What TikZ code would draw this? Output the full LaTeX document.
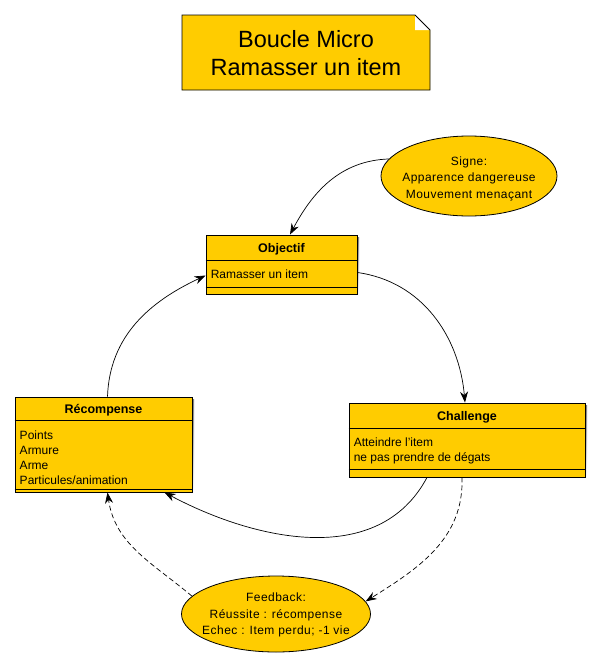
\documentclass[tikz,border=0pt]{standalone}
\usepackage{fontspec}
\setmainfont{Liberation Sans}
\usetikzlibrary{arrows.meta,shapes.geometric}
\definecolor{gold}{HTML}{FFCC00}
\definecolor{shade}{HTML}{C9A200}
\begin{document}
\begin{tikzpicture}[x=1pt,y=-1pt,
  cls/.style={draw=black,fill=gold,line width=0.9pt,inner sep=0pt,rectangle},
  hdr/.style={font=\fontsize{12.5}{14}\selectfont\bfseries,inner sep=0pt},
  body/.style={font=\fontsize{12}{15}\selectfont,inner sep=0pt,align=left,anchor=north west},
  oval/.style={ellipse,draw=black,fill=gold,line width=0.8pt,inner sep=0pt},
  ovaltext/.style={inner sep=0pt,align=center,
    font=\fontsize{12}{16.5}\selectfont\addfontfeatures{LetterSpace=4}},
  conn/.style={line width=0.7pt,-{Stealth[length=11pt,width=8pt]}},
  dconn/.style={conn,dash pattern=on 5pt off 3pt}]
\useasboundingbox (0,0) rectangle (602,672);

% title note
\fill[gold] (182,15) -- (415,15) -- (430,30) -- (430,90) -- (182,90) -- cycle;
\fill[white] (415,15) -- (430,30) -- (415,30) -- cycle;
\draw[line width=0.9pt] (182,15) -- (415,15) -- (430,30) -- (430,90) -- (182,90) -- cycle;
\node[font=\fontsize{23.5}{28}\selectfont,align=center,inner sep=0pt] (title) at (306,53.5) {Boucle Micro\\Ramasser un item};

% Objectif
\fill[shade] (208,237) rectangle (359,296);
\node[cls,minimum width=151pt,minimum height=59pt] (obj) at (281.5,264.5) {};
\node[hdr] (objh) at ([yshift=-14.5pt]obj.north) {Objectif};
\draw[line width=0.8pt] ([yshift=-26pt]obj.north west) -- ([yshift=-26pt]obj.north east);
\draw[line width=0.8pt] ([yshift=7pt]obj.south west) -- ([yshift=7pt]obj.south east);
\node[body] (objb) at ([xshift=5pt,yshift=-35pt]obj.north west) {Ramasser un item};

% Recompense
\fill[shade] (17,399) rectangle (194,494);
\node[cls,minimum width=177pt,minimum height=95pt] (rec) at (103.5,444.5) {};
\node[hdr] (rech) at ([yshift=-13.5pt]rec.north) {Récompense};
\draw[line width=0.8pt] ([yshift=-24pt]rec.north west) -- ([yshift=-24pt]rec.north east);
\draw[line width=0.8pt] ([yshift=3pt]rec.south west) -- ([yshift=3pt]rec.south east);
\node[body] (recb) at ([xshift=5pt,yshift=-34pt]rec.north west) {Points\\Armure\\Arme\\Particules/animation};

% Challenge
\fill[shade] (351,405) rectangle (587,479);
\node[cls,minimum width=236pt,minimum height=74pt] (cha) at (467,440) {};
\node[hdr] (chah) at ([yshift=-14.5pt]cha.north) {Challenge};
\draw[line width=0.8pt] ([yshift=-26pt]cha.north west) -- ([yshift=-26pt]cha.north east);
\draw[line width=0.8pt] ([yshift=8pt]cha.south west) -- ([yshift=8pt]cha.south east);
\node[body] (chab) at ([xshift=5pt,yshift=-35.5pt]cha.north west) {Atteindre l'item\\ne pas prendre de dégats};

% ellipses
\node[oval,minimum width=176pt,minimum height=80pt] (sig) at (469,176) {};
\node[ovaltext] (sigt) at (469,178.5) {Signe:\\Apparence dangereuse\\Mouvement menaçant};
\node[oval,minimum width=189pt,minimum height=76pt] (fb) at (276,614) {};
\node[ovaltext] (fbt) at (276,615) {Feedback:\\Réussite : récompense\\Echec : Item perdu; -1 vie};

% connectors
\draw[conn] (sig.168) to[out=182,in=62] ([xshift=8.5pt]obj.north);
\draw[conn] ([yshift=-8pt]obj.east) to[out=-8,in=95] ([xshift=-2pt]cha.north);
\draw[conn] ([xshift=-40pt]cha.south) to[out=-118,in=-28] ([xshift=61pt]rec.south);
\draw[conn] ([xshift=4pt]rec.north) to[out=88,in=205] ([yshift=-11pt]obj.west);
\draw[dconn] ([xshift=-5pt]cha.south) to[out=-88,in=32] (fb.8);
\draw[dconn] (fb.168) to[out=140,in=-82] ([xshift=4pt]rec.south);
\end{tikzpicture}
\end{document}
